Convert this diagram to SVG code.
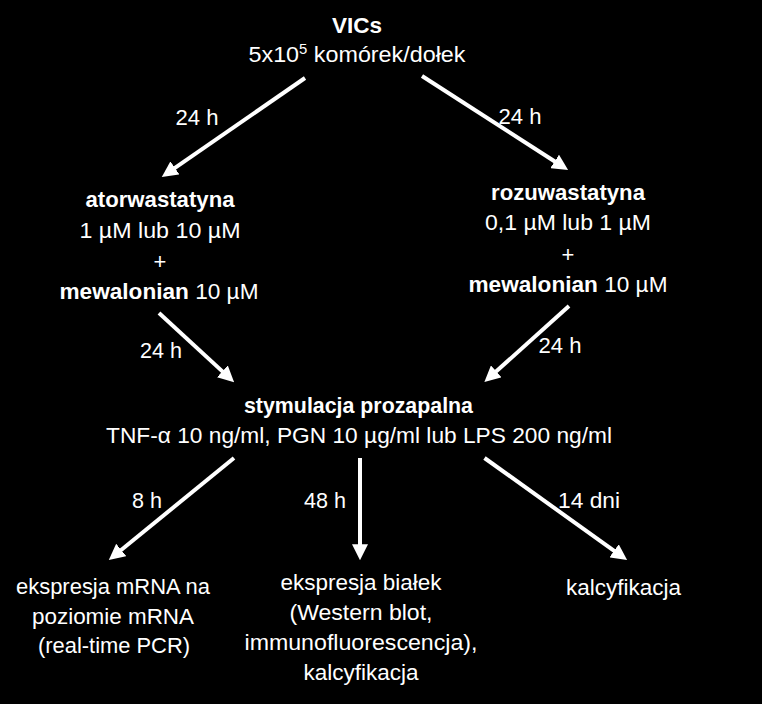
<svg xmlns="http://www.w3.org/2000/svg" width="762" height="704" viewBox="0 0 762 704">
<style>
text{font-family:"Liberation Sans",Arial,sans-serif;font-size:22px;fill:#fff;text-anchor:middle}
.b{font-weight:bold}
.c{stroke:#fff;stroke-width:4;fill:none;marker-end:url(#ah)}
</style>
<defs>
<marker id="ah" viewBox="0 0 10 10" refX="3" refY="5" markerWidth="4" markerHeight="4" orient="auto" markerUnits="strokeWidth">
<path d="M0,0 L10,5 L0,10 z" fill="#fff"/>
</marker>
</defs>
<rect width="762" height="704" fill="#000"/>
<g id="connectors">
<line class="c" x1="305" y1="78" x2="171" y2="170.7"/>
<line class="c" x1="422" y1="76" x2="558.7" y2="164"/>
<line class="c" x1="159" y1="313" x2="225.9" y2="374.6"/>
<line class="c" x1="569" y1="306" x2="492.7" y2="374.6"/>
<line class="c" x1="234" y1="458" x2="117.5" y2="553"/>
<line class="c" x1="360" y1="458" x2="360" y2="549"/>
<line class="c" x1="484.5" y1="458" x2="618" y2="553.6"/>
</g>
<g id="labels">
<text x="197" y="125" textLength="43" lengthAdjust="spacingAndGlyphs">24 h</text>
<text x="520" y="124" textLength="43" lengthAdjust="spacingAndGlyphs">24 h</text>
<text x="161" y="358" textLength="42" lengthAdjust="spacingAndGlyphs">24 h</text>
<text x="560" y="353" textLength="43" lengthAdjust="spacingAndGlyphs">24 h</text>
<text x="147" y="508" textLength="30" lengthAdjust="spacingAndGlyphs">8 h</text>
<text x="325" y="508" textLength="42" lengthAdjust="spacingAndGlyphs">48 h</text>
<text x="589" y="508" textLength="62" lengthAdjust="spacingAndGlyphs">14 dni</text>
</g>
<g id="vics">
<text class="b" x="357" y="33" textLength="50" lengthAdjust="spacingAndGlyphs">VICs</text>
<text x="357" y="62" textLength="217" lengthAdjust="spacingAndGlyphs">5x10<tspan dy="-8" font-size="14">5</tspan><tspan dy="8"> komórek/dołek</tspan></text>
</g>
<g id="atorwastatyna">
<text class="b" x="160" y="207" textLength="149" lengthAdjust="spacingAndGlyphs">atorwastatyna</text>
<text x="160" y="238" textLength="161" lengthAdjust="spacingAndGlyphs">1 µM lub 10 µM</text>
<text x="160" y="269">+</text>
<text x="159" y="299" textLength="199" lengthAdjust="spacingAndGlyphs"><tspan class="b">mewalonian</tspan> 10 µM</text>
</g>
<g id="rozuwastatyna">
<text class="b" x="568" y="200" textLength="154" lengthAdjust="spacingAndGlyphs">rozuwastatyna</text>
<text x="568" y="230" textLength="166" lengthAdjust="spacingAndGlyphs">0,1 µM lub 1 µM</text>
<text x="568" y="262">+</text>
<text x="568" y="292" textLength="199" lengthAdjust="spacingAndGlyphs"><tspan class="b">mewalonian</tspan> 10 µM</text>
</g>
<g id="stymulacja">
<text class="b" x="358.5" y="413" textLength="229" lengthAdjust="spacingAndGlyphs">stymulacja prozapalna</text>
<text x="359" y="443" textLength="506" lengthAdjust="spacingAndGlyphs">TNF-α 10 ng/ml, PGN 10 µg/ml lub LPS 200 ng/ml</text>
</g>
<g id="mrna">
<text x="113" y="594" textLength="194" lengthAdjust="spacingAndGlyphs">ekspresja mRNA na</text>
<text x="113" y="624" textLength="162" lengthAdjust="spacingAndGlyphs">poziomie mRNA</text>
<text x="114" y="653" textLength="152" lengthAdjust="spacingAndGlyphs">(real-time PCR)</text>
</g>
<g id="bialek">
<text x="361" y="590" textLength="161" lengthAdjust="spacingAndGlyphs">ekspresja białek</text>
<text x="361" y="620" textLength="143" lengthAdjust="spacingAndGlyphs">(Western blot,</text>
<text x="361" y="650" textLength="233" lengthAdjust="spacingAndGlyphs">immunofluorescencja),</text>
<text x="361" y="680" textLength="115" lengthAdjust="spacingAndGlyphs">kalcyfikacja</text>
</g>
<g id="kalcyfikacja">
<text x="623.5" y="595" textLength="115" lengthAdjust="spacingAndGlyphs">kalcyfikacja</text>
</g>
</svg>
